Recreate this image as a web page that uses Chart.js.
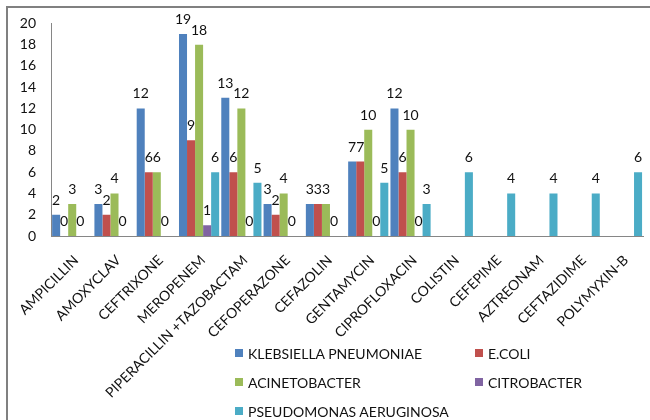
<!DOCTYPE html>
<html>
<head>
<meta charset="utf-8">
<script src="https://cdn.jsdelivr.net/npm/chart.js@4.4.0/dist/chart.umd.min.js"></script>
<style>
  body { margin: 0; background: #fff; }
  #wrap { position: relative; width: 650px; height: 420px; overflow: hidden; }
  #frame {
    position: absolute; left: 6px; top: 6px; width: 700px; height: 500px;
    border-top: 2px solid #808080; border-left: 2px solid #808080;
  }
  #myChart { position: absolute; left: 0; top: 0; }
  #legend {
    position: absolute; left: 235px; top: 343px;
    display: grid; grid-template-columns: 240px auto; row-gap: 9px;
    font-family: Lato, sans-serif; font-size: 14px; color: #111;
  }
  .item { display: flex; align-items: center; height: 20px; }
  .box { width: 8px; height: 8px; margin-right: 5px; }
</style>
</head>
<body>
<div id="wrap">
  <div id="frame"></div>
  <canvas id="myChart" width="650" height="420"></canvas>
  <div id="legend"></div>
</div>
<script>
const antibiotics = ['AMPICILLIN', 'AMOXYCLAV', 'CEFTRIXONE', 'MEROPENEM', 'PIPERACILLIN +TAZOBACTAM',
    'CEFOPERAZONE', 'CEFAZOLIN', 'GENTAMYCIN', 'CIPROFLOXACIN', 'COLISTIN', 'CEFEPIME',
    'AZTREONAM', 'CEFTAZIDIME', 'POLYMYXIN-B'];

const klebsiella = [2, 3, 12, 19, 13, 3, 3, 7, 12, null, null, null, null, null];
const ecoli = [0, 2, 6, 9, 6, 2, 3, 7, 6, null, null, null, null, null];
const acinetobacter = [3, 4, 6, 18, 12, 4, 3, 10, 10, null, null, null, null, null];
const citrobacter = [0, 0, 0, 1, 0, 0, 0, 0, 0, null, null, null, null, null];
const pseudomonas = [null, null, null, 6, 5, null, null, 5, 3, 6, 4, 4, 4, 6];

const yTicks = [0, 2, 4, 6, 8, 10, 12, 14, 16, 18, 20];

const series = [
    { label: 'KLEBSIELLA PNEUMONIAE', data: klebsiella, color: '#4F81BD' },
    { label: 'E.COLI', data: ecoli, color: '#C0504D' },
    { label: 'ACINETOBACTER', data: acinetobacter, color: '#9BBB59' },
    { label: 'CITROBACTER', data: citrobacter, color: '#8064A2' },
    { label: 'PSEUDOMONAS AERUGINOSA', data: pseudomonas, color: '#4BACC6' }
];

const FONT = 'Lato, sans-serif';

// value printed above every bar that has data (zeros included)
const valueLabels = {
    id: 'valueLabels',
    afterDatasetsDraw(chart) {
        const ctx = chart.ctx;
        ctx.save();
        ctx.font = '14px ' + FONT;
        ctx.fillStyle = '#111';
        ctx.textAlign = 'center';
        ctx.textBaseline = 'alphabetic';
        chart.data.datasets.forEach((ds, i) => {
            chart.getDatasetMeta(i).data.forEach((bar, j) => {
                const v = ds.data[j];
                if (v === null || v === undefined) return;
                ctx.fillText(String(v), bar.x, bar.y - 10);
            });
        });
        ctx.restore();
    }
};

function renderChart() {
    const ctx = document.getElementById('myChart').getContext('2d');
    new Chart(ctx, {
        type: 'bar',
        data: {
            labels: antibiotics,
            datasets: series.map(s => ({
                label: s.label,
                data: s.data,
                backgroundColor: s.color,
                borderWidth: 0,
                categoryPercentage: 0.95,
                barPercentage: 1.0
            }))
        },
        options: {
            responsive: false,
            animation: false,
            devicePixelRatio: 1,
            layout: { padding: { top: 22, right: 4, left: 0, bottom: 0 } },
            plugins: {
                legend: { display: false },
                tooltip: { enabled: false }
            },
            scales: {
                x: {
                    grid: { display: false, drawTicks: false },
                    border: { display: true, color: '#868686', width: 1 },
                    ticks: {
                        autoSkip: false,
                        maxRotation: 45,
                        minRotation: 45,
                        padding: 16,
                        labelOffset: 4,
                        color: '#111',
                        font: { family: FONT, size: 14 }
                    },
                    afterFit: s => { s.height = 184; }
                },
                y: {
                    min: 0,
                    max: 20,
                    afterBuildTicks: s => { s.ticks = yTicks.map(v => ({ value: v })); },
                    grid: { display: false, drawTicks: false },
                    border: { display: true, color: '#868686', width: 1 },
                    ticks: {
                        padding: 15,
                        color: '#111',
                        font: { family: FONT, size: 14 }
                    },
                    afterFit: s => { s.width = 51; }
                }
            }
        },
        plugins: [valueLabels]
    });
}

function renderLegend() {
    const box = document.getElementById('legend');
    series.forEach(s => {
        const item = document.createElement('div');
        item.className = 'item';
        item.innerHTML = '<span class="box" style="background:' + s.color + '"></span>' + s.label;
        box.appendChild(item);
    });
}

renderChart();
renderLegend();
</script>
</body>
</html>
